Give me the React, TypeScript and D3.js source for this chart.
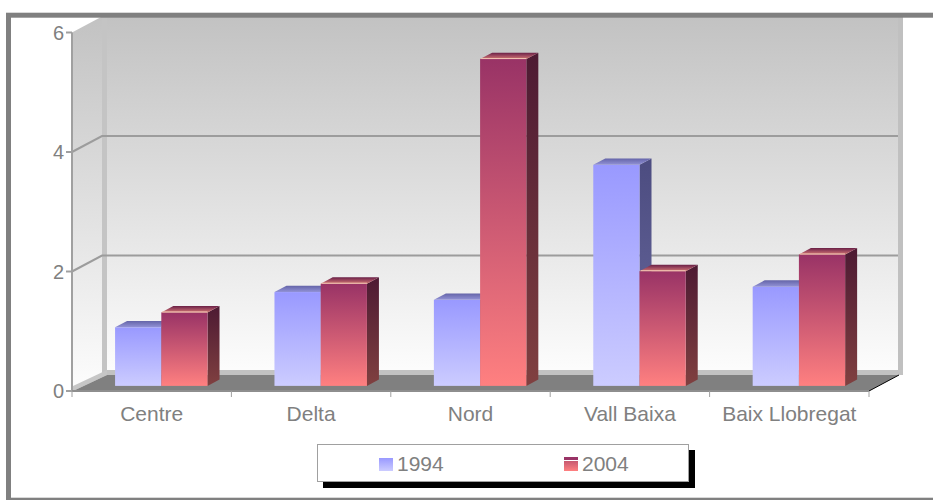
import React from "react";
import * as d3 from "d3";

// Data
const categories = ["Centre", "Delta", "Nord", "Vall Baixa", "Baix Llobregat"];
const seriesNames = ["1994", "2004"];
const values1994 = [0.98, 1.57, 1.44, 3.7, 1.66];
const values2004 = [1.23, 1.71, 5.47, 1.92, 2.2];
const yTicks = [0, 2, 4, 6];

const W = 933;
const H = 500;
const FONT = "'Liberation Sans', Arial, sans-serif";

// 3D depth of the plot box
const DX = 30;
const DY = 16;
// bar placement within the depth
const F0 = 0.32;
const FD = 0.4;

export default function App() {
  const x = d3.scaleBand<string>().domain(categories).range([72, 869]);
  const y = d3.scaleLinear().domain([0, 6]).range([391, 32.5]);
  const bw = x.bandwidth();
  const gw = bw * 0.58;
  const xs = d3.scaleBand<string>().domain(seriesNames).range([0, gw]);
  const barW = xs.bandwidth();

  const offX = DX * F0;
  const offY = DY * F0;
  const bdx = DX * FD;
  const bdy = DY * FD;

  const x0 = x.range()[0];
  const x1 = x.range()[1];
  const yTop = y(6) - DY;
  const yFloorBack = y(0) - DY;

  const pts = (p: [number, number][]) => p.map((q) => q.join(",")).join(" ");

  const series = [
    { name: "1994", values: values1994, front: "g94front", side: "g94side", top: "g94top" },
    { name: "2004", values: values2004, front: "g04front", side: "g04side", top: "g04top" },
  ];

  const bars: React.ReactNode[] = [];
  categories.forEach((c, i) => {
    series.forEach((s) => {
      const v = s.values[i];
      const left = (x(c) as number) + (bw - gw) / 2 + (xs(s.name) as number) + offX;
      const right = left + barW;
      const bottom = y(0) - offY;
      const top = y(v) - offY;
      bars.push(
        <g key={c + s.name}>
          <polygon
            points={pts([
              [right, bottom],
              [right, top],
              [right + bdx, top - bdy],
              [right + bdx, bottom - bdy],
            ])}
            fill={`url(#${s.side})`}
          />
          <rect x={left} y={top} width={barW} height={bottom - top} fill={`url(#${s.front})`} />
          <polygon
            points={pts([
              [left, top],
              [right, top],
              [right + bdx, top - bdy],
              [left + bdx, top - bdy],
            ])}
            fill={`url(#${s.top})`}
          />
          {s.name === "2004" && (
            <line x1={left + 1} x2={right} y1={top - 0.5} y2={top - 0.5} stroke="#f2c4b4" strokeWidth={1} />
          )}
        </g>
      );
    });
  });

  return (
    <div style={{ position: "fixed", left: 0, top: 0 }}>
      <svg width={W} height={H} style={{ display: "block", background: "#fff" }}>
        <defs>
          <linearGradient id="wall" x1="0" y1="0" x2="0" y2="1">
            <stop offset="0" stopColor="#c2c2c2" />
            <stop offset="1" stopColor="#fdfdfd" />
          </linearGradient>
          <linearGradient id="g94front" x1="0" y1="0" x2="0" y2="1">
            <stop offset="0" stopColor="#9999ff" />
            <stop offset="1" stopColor="#ccccff" />
          </linearGradient>
          <linearGradient id="g94side" x1="0" y1="0" x2="0" y2="1">
            <stop offset="0" stopColor="#4c4c80" />
            <stop offset="1" stopColor="#6a6aa0" />
          </linearGradient>
          <linearGradient id="g94top" x1="0" y1="1" x2="0" y2="0">
            <stop offset="0" stopColor="#9292d6" />
            <stop offset="1" stopColor="#6464a8" />
          </linearGradient>
          <linearGradient id="g04front" x1="0" y1="0" x2="0" y2="1">
            <stop offset="0" stopColor="#993366" />
            <stop offset="1" stopColor="#ff8080" />
          </linearGradient>
          <linearGradient id="g04side" x1="0" y1="0" x2="0" y2="1">
            <stop offset="0" stopColor="#4d1a33" />
            <stop offset="1" stopColor="#804040" />
          </linearGradient>
          <linearGradient id="g04top" x1="0" y1="1" x2="0" y2="0">
            <stop offset="0" stopColor="#d07870" />
            <stop offset="0.5" stopColor="#a04a60" />
            <stop offset="1" stopColor="#6a2046" />
          </linearGradient>
          <linearGradient id="legend04" x1="0" y1="0" x2="0" y2="1">
            <stop offset="0" stopColor="#b04a6a" />
            <stop offset="1" stopColor="#ff8080" />
          </linearGradient>
        </defs>

        {/* back wall */}
        <rect x={x0 + DX} y={yTop} width={x1 - x0} height={yFloorBack - yTop} fill="url(#wall)" />
        {/* side wall */}
        <polygon
          points={pts([
            [x0, y(0)],
            [x0, y(6)],
            [x0 + DX, yTop],
            [x0 + DX, yFloorBack],
          ])}
          fill="url(#wall)"
        />
        {/* wall borders */}
        <rect x={x0 + DX} y={yTop} width={5} height={yFloorBack - yTop} fill="#c4c4c4" />
        <rect x={x1 + DX - 1} y={yTop} width={5} height={yFloorBack - yTop} fill="#c0c0c0" />
        <rect x={x0 + DX} y={yFloorBack - 5} width={x1 - x0 + 4} height={5} fill="#c2c2c2" />
        <polygon
          points={pts([
            [x0 + 1, y(0)],
            [x0 + DX + 5, yFloorBack],
            [x0 + DX + 5, yFloorBack - 5],
            [x0 + 1, y(0) - 5],
          ])}
          fill="#c6c6c6"
        />

        {/* gridlines */}
        {yTicks
          .filter((t) => t > 0 && t < 6)
          .map((t) => (
            <polyline
              key={t}
              points={pts([
                [x0, y(t)],
                [x0 + DX, y(t) - DY],
                [x1 + DX - 1, y(t) - DY],
              ])}
              fill="none"
              stroke="#9c9c9c"
              strokeWidth={2}
            />
          ))}

        {/* floor */}
        <polygon
          points={pts([
            [x0 + 1, y(0)],
            [x1, y(0)],
            [x1 + DX, yFloorBack],
            [x0 + DX + 5, yFloorBack],
          ])}
          fill="#808080"
        />
        <line x1={x1} y1={y(0)} x2={x1 + DX} y2={yFloorBack} stroke="#000" strokeWidth={1} />

        {/* bars */}
        {bars}

        {/* axes */}
        <line x1={x0} x2={x0} y1={y(6)} y2={y(0) + 1} stroke="#a0a0a0" strokeWidth={2} />
        <line x1={x0 - 6} x2={x1} y1={y(0)} y2={y(0)} stroke="#8e8e8e" strokeWidth={2} />
        {yTicks.map((t) => (
          <g key={t}>
            <line x1={x0 - 6} x2={x0} y1={y(t)} y2={y(t)} stroke="#a0a0a0" strokeWidth={2} />
            <text
              x={x0 - 8}
              y={y(t)}
              dy="0.36em"
              textAnchor="end"
              fontFamily={FONT}
              fontSize={20}
              fill="#808080"
            >
              {t}
            </text>
          </g>
        ))}
        {[...categories.map((c) => x(c) as number), x1].map((p, i) => (
          <line key={i} x1={p} x2={p} y1={y(0)} y2={y(0) + 6} stroke="#a0a0a0" strokeWidth={1} />
        ))}
        {categories.map((c) => (
          <text
            key={c}
            x={(x(c) as number) + bw / 2}
            y={421}
            textAnchor="middle"
            fontFamily={FONT}
            fontSize={21}
            fill="#808080"
          >
            {c}
          </text>
        ))}

        {/* legend */}
        <rect x={323} y={450} width={372} height={38} fill="#000" />
        <rect x={317.5} y={444.5} width={371} height={37} fill="#fff" stroke="#a0a0a0" strokeWidth={1} />
        <rect x={379} y={458} width={14} height={13} fill="url(#g94front)" />
        <text x={397} y={470.5} fontFamily={FONT} fontSize={21} fill="#808080">
          {seriesNames[0]}
        </text>
        <rect x={564} y={457} width={14} height={14} fill="url(#legend04)" />
        <rect x={564} y={457} width={14} height={3} fill="#993366" />
        <line x1={564} x2={578} y1={460.5} y2={460.5} stroke="#fff" strokeWidth={1} />
        <text x={582} y={470.5} fontFamily={FONT} fontSize={21} fill="#808080">
          {seriesNames[1]}
        </text>

        {/* outer frame */}
        <rect x={8.5} y={15.2} width={1000} height={485} fill="none" stroke="#808080" strokeWidth={5} />
      </svg>
    </div>
  );
}
